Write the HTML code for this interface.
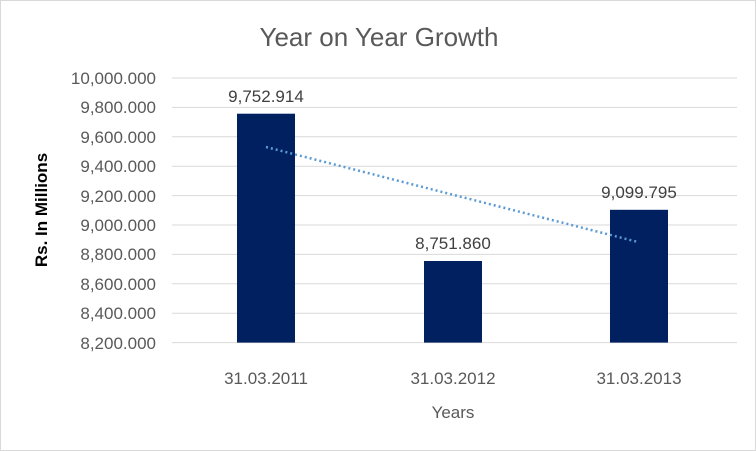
<!DOCTYPE html>
<html><head><style>
body{margin:0;background:#fff}
svg{display:block}
text{font-family:"Liberation Sans",sans-serif;fill:#595959}
</style></head><body>
<svg width="756" height="451" viewBox="0 0 756 451" xmlns="http://www.w3.org/2000/svg">
<rect x="0.5" y="0.5" width="755" height="450" fill="#fff" stroke="#d9d9d9"/>
<text x="379" y="46" font-size="26" text-anchor="middle">Year on Year Growth</text>
<g stroke="#d9d9d9" stroke-width="1">
<line x1="172" x2="737" y1="78" y2="78"/>
<line x1="172" x2="737" y1="107.4" y2="107.4"/>
<line x1="172" x2="737" y1="136.8" y2="136.8"/>
<line x1="172" x2="737" y1="166.2" y2="166.2"/>
<line x1="172" x2="737" y1="195.6" y2="195.6"/>
<line x1="172" x2="737" y1="225" y2="225"/>
<line x1="172" x2="737" y1="254.4" y2="254.4"/>
<line x1="172" x2="737" y1="283.8" y2="283.8"/>
<line x1="172" x2="737" y1="313.2" y2="313.2"/>
<line x1="172" x2="737" y1="342.6" y2="342.6"/>
</g>
<g font-size="17" text-anchor="end">
<text x="156" y="84">10,000.000</text>
<text x="156" y="113">9,800.000</text>
<text x="156" y="143">9,600.000</text>
<text x="156" y="172">9,400.000</text>
<text x="156" y="202">9,200.000</text>
<text x="156" y="231">9,000.000</text>
<text x="156" y="260">8,800.000</text>
<text x="156" y="290">8,600.000</text>
<text x="156" y="319">8,400.000</text>
<text x="156" y="349">8,200.000</text>
</g>
<g fill="#002060">
<rect x="237" y="113.7" width="58" height="228.9"/>
<rect x="424" y="261" width="58" height="81.6"/>
<rect x="610" y="209.8" width="58" height="132.8"/>
</g>
<line x1="266" y1="147" x2="638" y2="242" stroke="#5b9bd5" stroke-width="2.5" stroke-dasharray="2 3"/>
<g font-size="17" text-anchor="middle">
<text x="266" y="102" style="fill:#404040">9,752.914</text>
<text x="453" y="249" style="fill:#404040">8,751.860</text>
<text x="639" y="198" style="fill:#404040">9,099.795</text>
</g>
<g font-size="17" text-anchor="middle">
<text x="266" y="384">31.03.2011</text>
<text x="453" y="384">31.03.2012</text>
<text x="639" y="384">31.03.2013</text>
<text x="453" y="418">Years</text>
</g>
<text transform="translate(47,210) rotate(-90)" font-size="17" font-weight="bold" text-anchor="middle" style="fill:#000">Rs. In Millions</text>
</svg>
</body></html>
